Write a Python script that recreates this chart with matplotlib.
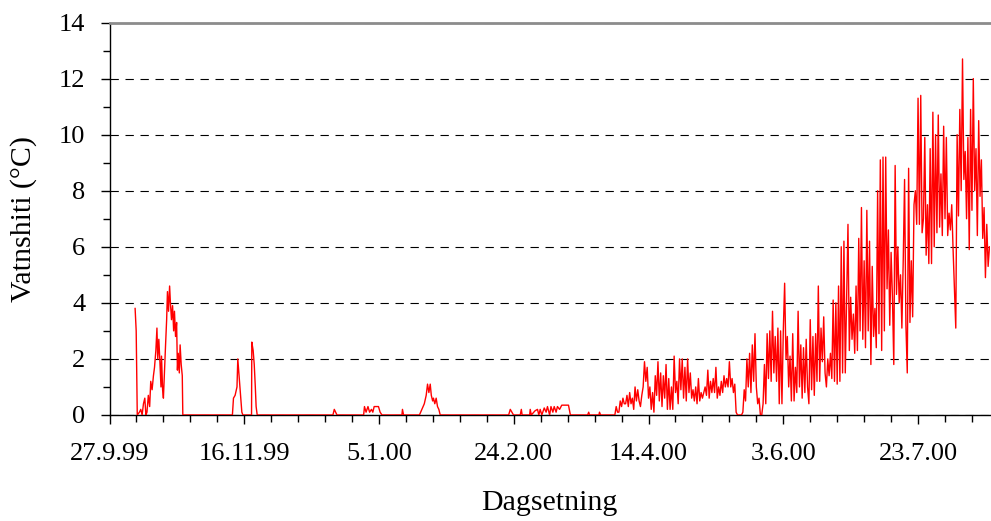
import numpy as np
import matplotlib
matplotlib.use("Agg")
import matplotlib.pyplot as plt
from matplotlib.ticker import MultipleLocator
from datetime import datetime

plt.rcParams["font.family"] = ["Liberation Serif", "DejaVu Serif"]

# Startdato for x-aksen
start = datetime(1999, 9, 27)

# Haust: dagar etter 27.9.99 og vatnstemperatur (°C)
haust_dag = [9.5, 9.9, 10.3, 11.1, 11.6, 12.1, 12.6, 13.1, 13.5, 13.9,
             14.4, 14.9, 15.3, 15.8, 16.3, 16.7, 17.2, 17.6, 17.9, 18.3,
             18.7, 19.1, 19.3, 19.7, 20.0, 20.4, 20.8, 21.2, 21.5, 21.9,
             22.3, 22.6, 23.0, 23.4, 23.8, 24.1, 24.5, 24.9, 25.2, 25.5,
             25.9, 26.2, 26.6, 27.0, 27.2, 45.6, 46.0, 46.6, 47.3, 47.6,
             48.0, 48.4, 48.7, 49.1, 49.5, 52.7, 52.8, 53.3, 53.7, 54.1,
             54.4, 54.8]
haust_temp = [3.8, 3.0, 0.0, 0.1, 0.2, 0.0, 0.4, 0.6, 0.0, 0.1,
              0.7, 0.3, 1.2, 0.9, 1.4, 1.7, 2.3, 3.1, 2.0, 2.7,
              1.9, 1.0, 2.1, 0.9, 0.6, 1.6, 2.5, 3.4, 4.4, 3.7,
              4.6, 4.0, 3.4, 3.9, 3.0, 3.7, 2.8, 3.3, 1.6, 2.2,
              1.5, 2.5, 1.8, 1.4, 0.0, 0.0, 0.6, 0.7, 1.0, 2.0,
              1.5, 1.0, 0.6, 0.1, 0.0, 0.0, 2.6, 2.3, 1.8, 1.0,
              0.3, 0.0]

# Vinter: dagar etter 27.9.99 og vatnstemperatur (°C)
vinter_dag = [82.9, 83.4, 83.9, 84.4, 94.3, 94.6, 95.2, 95.9, 96.5, 97.2,
              97.7, 98.2, 99.8, 100.4, 101.1, 108.5, 108.7, 109.1, 115.0, 115.9,
              116.8, 117.5, 118.0, 118.5, 119.0, 119.4, 119.9, 120.2, 120.7, 121.2,
              121.7, 122.2, 122.7, 148.1, 148.7, 149.3, 149.9, 152.4, 152.8, 153.1,
              155.9, 156.1, 156.5, 157.9, 158.8, 159.3, 159.8, 160.4, 161.3, 162.0,
              162.5, 163.3, 163.8, 164.5, 165.0, 165.7, 166.2, 167.0, 167.8, 169.1,
              170.3, 171.0, 177.4, 177.8, 178.1, 181.6, 181.8, 182.2]
vinter_temp = [0.0, 0.2, 0.1, 0.0, 0.0, 0.3, 0.1, 0.3, 0.1, 0.2,
               0.1, 0.3, 0.3, 0.1, 0.0, 0.0, 0.2, 0.0, 0.0, 0.2,
               0.4, 0.7, 1.1, 0.8, 1.1, 0.7, 0.5, 0.6, 0.4, 0.6,
               0.3, 0.2, 0.0, 0.0, 0.2, 0.1, 0.0, 0.0, 0.2, 0.0,
               0.0, 0.2, 0.0, 0.15, 0.2, 0.0, 0.2, 0.0, 0.25, 0.1,
               0.3, 0.0, 0.3, 0.1, 0.3, 0.1, 0.3, 0.2, 0.35, 0.35,
               0.35, 0.0, 0.0, 0.1, 0.0, 0.0, 0.1, 0.0]

# Vår og sommar: ein verdi kvar 12. time frå dag 187
var_start_dag = 187.0
var_temp = [0.0, 0.0, 0.3, 0.1, 0.1, 0.5, 0.3, 0.6, 0.4, 0.4,
            0.7, 0.3, 0.8, 0.4, 0.6, 0.2, 1.0, 0.5, 0.9, 0.5,
            0.3, 0.7, 1.0, 1.9, 1.2, 1.7, 0.6, 1.0, 0.2, 0.8,
            0.1, 1.4, 0.7, 1.9, 0.5, 1.5, 0.3, 1.4, 0.6, 1.8,
            0.2, 1.3, 0.2, 1.0, 0.2, 2.1, 0.8, 1.2, 0.4, 2.0,
            0.9, 2.0, 0.6, 1.7, 0.5, 2.0, 0.8, 1.5, 0.6, 0.9,
            0.5, 1.0, 0.4, 1.3, 0.5, 0.8, 0.6, 0.8, 1.0, 0.7,
            1.6, 0.6, 1.2, 0.8, 1.3, 0.8, 1.7, 0.6, 1.0, 0.7,
            1.2, 0.8, 1.4, 1.0, 1.3, 1.0, 1.9, 1.0, 1.3, 0.8,
            1.1, 0.1, 0.0, 0.0, 0.0, 0.0, 0.1, 0.9, 0.5, 2.0,
            1.0, 2.2, 0.8, 2.5, 1.2, 2.9, 1.0, 0.4, 0.6, 0.0,
            0.0, 0.4, 1.8, 0.4, 2.9, 1.3, 3.0, 1.2, 3.7, 1.5,
            2.8, 1.2, 3.1, 0.4, 3.0, 0.4, 3.0, 4.7, 2.0, 2.8,
            1.0]
sommar_temp = [2.1, 0.5, 2.9, 0.5, 1.7, 0.8, 3.7, 1.0, 2.5, 0.6,
               2.4, 0.8, 2.7, 1.0, 0.4, 3.4, 0.9, 2.8, 0.7, 2.9,
               1.2, 4.6, 1.2, 3.1, 1.9, 3.5, 1.5, 1.0, 2.0, 1.4,
               2.2, 1.3, 4.1, 1.2, 4.0, 1.1, 4.6, 1.2, 6.0, 1.5,
               6.2, 1.5, 4.1, 6.8, 2.3, 4.2, 2.7, 3.6, 2.2, 4.6,
               2.3, 6.3, 3.0, 7.4, 2.7, 5.5, 2.4, 7.3, 3.0, 6.2,
               1.8, 5.3, 2.8, 3.8, 2.4, 8.0, 2.9, 9.1, 2.3, 9.2,
               3.0, 9.2, 4.5, 6.6, 3.2, 5.8, 4.2, 1.8, 8.9, 4.3,
               6.0, 4.0, 5.0, 3.1, 5.5, 8.4, 3.2, 1.5, 8.8, 3.3,
               5.5, 3.5, 7.5, 8.0, 6.8, 11.3, 6.8, 11.4, 6.5, 7.0,
               9.9, 5.7, 7.5, 5.4, 9.5, 5.4, 10.8, 6.0, 10.0, 6.5,
               10.7, 6.7, 8.6, 6.4, 10.3, 7.0, 9.9, 6.4, 7.2, 6.6,
               7.5, 5.9, 4.5, 3.1, 10.0, 7.1, 10.9, 8.0, 12.7, 8.4,
               9.4, 7.0, 9.9, 5.9, 10.9, 7.3, 12.0, 8.0, 9.5, 6.4,
               10.5, 7.8, 9.1, 6.3, 7.4, 4.9, 6.8, 5.3, 6.0]

tick_labels = ["27.9.99", "16.11.99", "5.1.00", "24.2.00", "14.4.00", "3.6.00", "23.7.00"]
x_end_dag = 326.7

# Set saman tidsserien
vs_temp = var_temp + sommar_temp
vs_dag = var_start_dag + 0.5 * np.arange(len(vs_temp))
dager = np.concatenate([haust_dag, vinter_dag, vs_dag])
temp = np.concatenate([haust_temp, vinter_temp, vs_temp])

tick_pos = [(datetime.strptime(s, "%d.%m.%y") - start).days for s in tick_labels]

fig = plt.figure(figsize=(9.91, 5.21), dpi=100)
ax = fig.add_axes([0.1105, 0.2035, 0.8885, 0.7533])

ax.plot(dager, temp, color="#ff0000", lw=1.0, zorder=3)

ax.set_xlim(0, x_end_dag)
ax.set_ylim(0, 14)
ax.set_xticks(tick_pos)
ax.set_xticklabels(tick_labels)
ax.xaxis.set_minor_locator(MultipleLocator(10))
ax.yaxis.set_major_locator(MultipleLocator(2))
ax.yaxis.set_minor_locator(MultipleLocator(1))

# Stipla rutenett
ax.set_axisbelow(True)
ax.yaxis.grid(True, color="black", lw=0.8, linestyle=(0, (7.5, 6)))

ax.spines["right"].set_visible(False)
ax.spines["top"].set_color("#8c8c8c")
ax.spines["top"].set_linewidth(2)
ax.spines["left"].set_linewidth(1.0)
ax.spines["bottom"].set_linewidth(1.0)

ax.tick_params(which="major", direction="out", length=6.5, width=1.0,
               labelsize=19, pad=11)
ax.tick_params(axis="x", which="major", pad=14)
ax.tick_params(which="minor", direction="out", length=4.7, width=1.0)
ax.tick_params(axis="x", which="both", top=False)

ax.set_xlabel("Dagsetning", fontsize=21.5, labelpad=18)
ax.set_ylabel("Vatnshiti (°C)", fontsize=21.5)
ax.yaxis.set_label_coords(-0.082, 0.5)

fig.savefig("out.png", dpi=100)
